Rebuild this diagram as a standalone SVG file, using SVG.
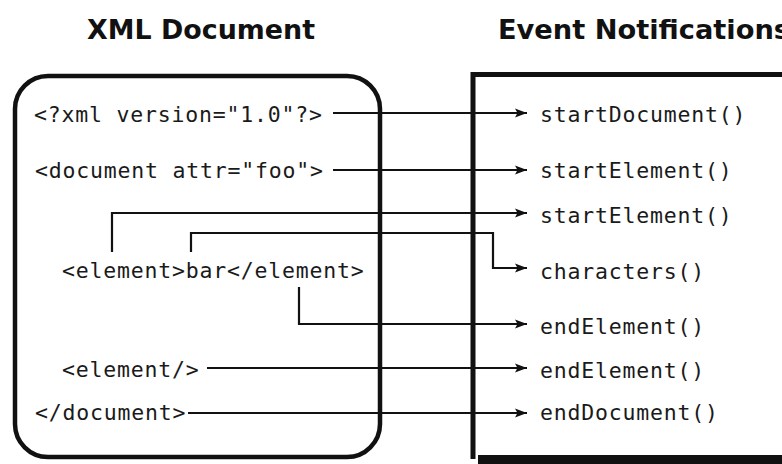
<svg xmlns="http://www.w3.org/2000/svg" width="782" height="464" viewBox="0 0 782 464">
<defs>
<style>
.title{font-family:"DejaVu Sans",sans-serif;font-weight:bold;font-size:26px;fill:#111}
.code{font-family:"DejaVu Sans Mono",monospace;font-size:21.5px;letter-spacing:0.8px;fill:#1a1a1a}
.conn{fill:none;stroke:#111;stroke-width:2.2}
</style>
<marker id="arr" markerUnits="userSpaceOnUse" markerWidth="14" markerHeight="12" refX="12" refY="5" orient="auto">
<path d="M0,0.5 L12,5 L0,9.5 L2.5,5 z" fill="#111"/>
</marker>
</defs>
<rect width="782" height="464" fill="#fff"/>
<g id="titles">
<text class="title" x="87" y="39" textLength="228" lengthAdjust="spacingAndGlyphs">XML Document</text>
<text class="title" x="498" y="39" textLength="292" lengthAdjust="spacingAndGlyphs">Event Notifications</text>
</g>
<g id="xml-document">
<rect x="15" y="76" width="365" height="381" rx="33" ry="33" fill="none" stroke="#111" stroke-width="4.5"/>
<text class="code" x="34" y="122">&lt;?xml version="1.0"?&gt;</text>
<text class="code" x="35" y="178">&lt;document attr="foo"&gt;</text>
<text class="code" x="62" y="278">&lt;element&gt;bar&lt;/element&gt;</text>
<text class="code" x="62" y="377">&lt;element/&gt;</text>
<text class="code" x="35" y="420">&lt;/document&gt;</text>
</g>
<g id="event-notifications">
<path d="M782,74.5 H473 V459" fill="none" stroke="#111" stroke-width="5"/>
<rect x="478" y="455" width="304" height="9" fill="#111"/>
<text class="code" x="540" y="122">startDocument()</text>
<text class="code" x="540" y="178">startElement()</text>
<text class="code" x="540" y="223">startElement()</text>
<text class="code" x="540" y="279">characters()</text>
<text class="code" x="540" y="334">endElement()</text>
<text class="code" x="540" y="378">endElement()</text>
<text class="code" x="540" y="420">endDocument()</text>
</g>
<g id="connectors">
<path class="conn" d="M333,113 H527" marker-end="url(#arr)"/>
<path class="conn" d="M333,170 H527" marker-end="url(#arr)"/>
<path class="conn" d="M112,252 V213 H527" marker-end="url(#arr)"/>
<path class="conn" d="M191,252 V233 H493 V268 H527" marker-end="url(#arr)"/>
<path class="conn" d="M299,287 V324 H527" marker-end="url(#arr)"/>
<path class="conn" d="M207,368 H527" marker-end="url(#arr)"/>
<path class="conn" d="M188,413 H527" marker-end="url(#arr)"/>
</g>
</svg>
